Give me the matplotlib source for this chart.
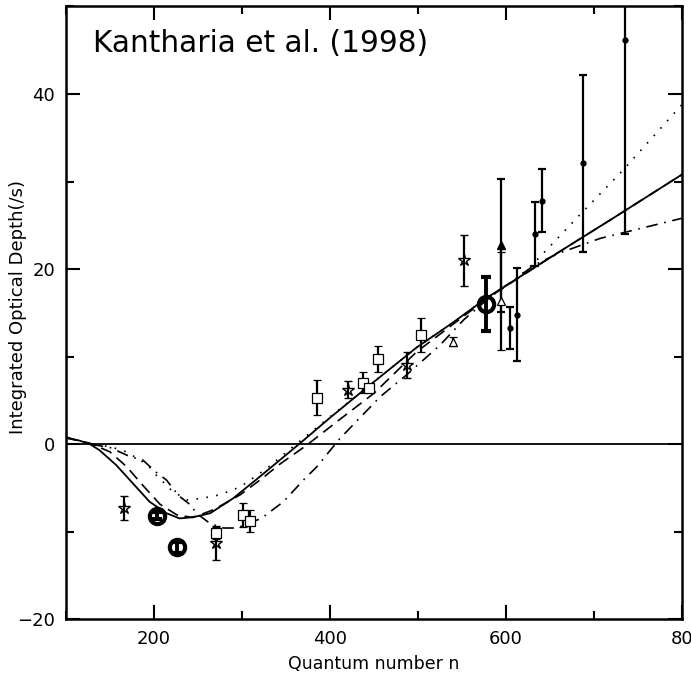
import matplotlib.pyplot as plt
from matplotlib.ticker import MultipleLocator

# data points
star_n = [166, 270, 421, 487, 552]
star_tau = [-7.3, -11.3, 6.2, 9.0, 21.0]
star_err = [1.4, 1.9, 0.95, 1.5, 2.9]

sq_n = [270, 301, 309, 385, 437, 444, 454, 503]
sq_tau = [-10.2, -8.1, -8.8, 5.3, 7.0, 6.4, 9.7, 12.5]
sq_err = [0.7, 1.4, 1.3, 2.0, 1.2, 0.5, 1.45, 1.95]

otri_n = [540, 594]
otri_tau = [11.7, 16.3]
otri_err = [0.5, 5.6]

ftri_n = [594]
ftri_tau = [22.7]
ftri_err = [7.6]

dot_n = [605, 612, 633, 641, 688, 735]
dot_tau = [13.3, 14.8, 24.0, 27.8, 32.1, 46.2]
dot_err = [2.4, 5.3, 3.7, 3.6, 10.1, 22.2]

circ_n = [203, 226, 577]
circ_tau = [-8.2, -11.8, 16.0]
circ_err = [0.4, 0.6, 3.1]

# model curves
solid_n = [100, 115, 127, 138, 157, 176, 195, 214, 229, 241, 252, 264, 290, 317, 347,
           365, 400, 440, 498, 540, 578, 650, 720, 800]
solid_tau = [0.7, 0.4, 0.0, -0.7, -2.4, -4.5, -6.6, -7.9, -8.5, -8.4, -8.2, -7.9, -6.2,
             -4.0, -1.5, 0.0, 3.0, 6.3, 11.0, 13.9, 16.7, 21.3, 25.7, 30.8]

dash_n = [100, 127, 150, 169, 188, 207, 226, 244, 268, 298, 322, 343, 374, 411, 450,
          498, 540, 578, 650, 720, 800]
dash_tau = [0.7, 0.1, -0.9, -2.6, -4.8, -6.9, -8.1, -8.4, -7.5, -5.8, -4.0, -2.3, -0.1,
            2.8, 5.8, 10.5, 13.7, 16.6, 21.3, 25.7, 30.8]

dot_line_n = [100, 127, 150, 169, 193, 202, 221, 238, 255, 275, 298, 328, 358, 400, 440,
              498, 540, 578, 610, 633, 684, 733, 800]
dot_line_tau = [0.8, 0.0, -0.3, -0.9, -2.4, -3.5, -5.4, -6.4, -6.2, -5.8, -4.9, -2.8, -0.3,
                3.1, 6.3, 11.0, 13.9, 16.7, 18.7, 20.8, 26.2, 31.3, 38.8]

dd_n = [100, 127, 150, 174, 187, 202, 214, 228, 242, 248, 264, 279, 294, 322, 347, 370,
        385, 411, 457, 487, 525, 552, 582, 633, 660, 707, 800]
dd_tau = [0.8, 0.0, -0.4, -1.5, -1.8, -3.2, -4.1, -5.9, -7.0, -7.9, -9.1, -9.6, -9.6, -8.5,
          -6.6, -4.1, -2.6, 0.6, 5.4, 7.9, 11.3, 14.2, 16.8, 20.5, 21.8, 23.5, 25.8]

plt.rcParams['font.family'] = 'DejaVu Sans'
fig = plt.figure(figsize=(6.91, 6.84), dpi=100)
ax = fig.add_axes([0.0955, 0.095, 0.8915, 0.8955])

ax.axhline(0, color='black', lw=1.3)
ax.plot(solid_n, solid_tau, color='black', lw=1.3, ls='-')
ax.plot(dash_n, dash_tau, color='black', lw=1.2, ls=(0, (7, 4)))
ax.plot(dot_line_n, dot_line_tau, color='black', lw=1.2, ls=(0, (1, 5)))
ax.plot(dd_n, dd_tau, color='black', lw=1.2, ls=(0, (7, 4, 1, 4)))

eb = dict(color='black', ecolor='black', elinewidth=1.6, capsize=3, capthick=1.6, ls='none')
ax.errorbar(star_n, star_tau, yerr=star_err, marker='*', ms=9, mfc='none', mec='black', mew=1.0, **eb)
ax.errorbar(sq_n, sq_tau, yerr=sq_err, marker='s', ms=6.5, mfc='white', mec='black', mew=0.9, **eb)
ax.errorbar(otri_n, otri_tau, yerr=otri_err, marker='^', ms=6, mfc='white', mec='black', mew=0.9, **eb)
ax.errorbar(ftri_n, ftri_tau, yerr=ftri_err, marker='^', ms=6, mfc='black', mec='black', **eb)
ax.errorbar(dot_n, dot_tau, yerr=dot_err, marker='o', ms=3.5, mfc='black', mec='black', **eb)
ax.errorbar(circ_n, circ_tau, yerr=circ_err, marker='o', ms=11, mfc='none', mec='black', mew=3,
            color='black', ecolor='black', elinewidth=2.8, capsize=3.5, capthick=2.5, ls='none')

ax.text(0.044, 0.94, 'Kantharia et al. (1998)', transform=ax.transAxes, fontsize=21.3,
        ha='left', va='center')

ax.set_xlim(100, 800)
ax.set_ylim(-20, 50)
ax.set_xticks([200, 400, 600, 800])
ax.set_xticklabels(['200', '400', '600', '80'])
ax.set_yticks([-20, 0, 20, 40])
ax.set_yticklabels(['\u221220', '0', '20', '40'])
ax.xaxis.set_minor_locator(MultipleLocator(100))
ax.yaxis.set_minor_locator(MultipleLocator(10))
ax.tick_params(which='both', direction='in', top=True, right=True, labelsize=13, width=1.5)
ax.tick_params(which='major', length=10, pad=8)
ax.tick_params(which='minor', length=6)
for s in ax.spines.values():
    s.set_linewidth(1.8)

ax.set_xlabel('Quantum number n', fontsize=12.5, labelpad=5)
ax.set_ylabel('Integrated Optical Depth(/s)', fontsize=13)
ax.yaxis.set_label_coords(-0.063, 0.51)

fig.savefig('out.png', dpi=100)
